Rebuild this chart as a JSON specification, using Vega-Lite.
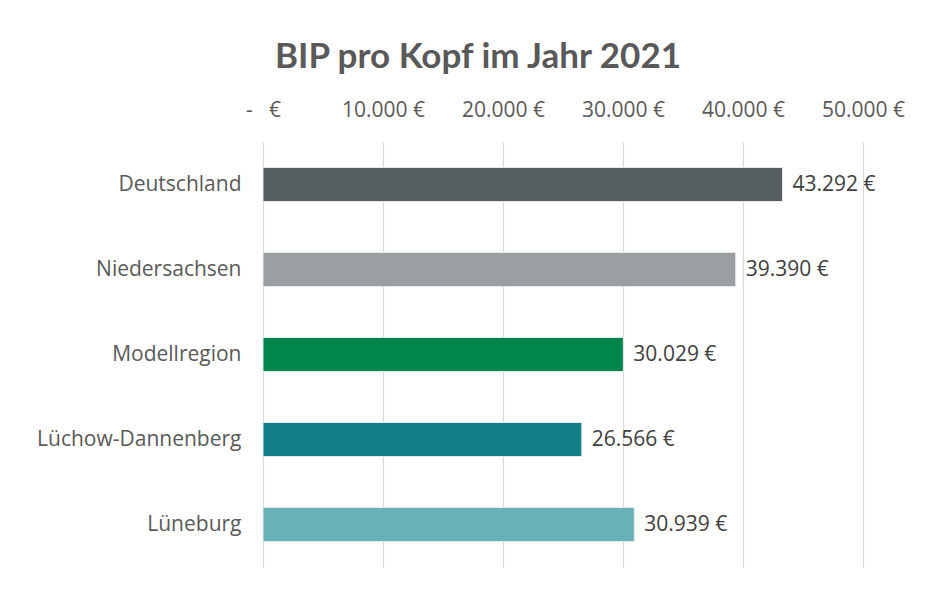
{
  "$schema": "https://vega.github.io/schema/vega-lite/v6.json",
  "width": 600,
  "height": 425,
  "padding": {"left": 36, "top": 40, "right": 10, "bottom": 10},
  "background": "white",
  "title": {
    "text": "BIP pro Kopf im Jahr 2021",
    "font": "Lato",
    "fontSize": 35,
    "fontWeight": "bold",
    "color": "#595959",
    "anchor": "middle",
    "frame": "group",
    "dx": -85,
    "offset": 24
  },
  "data": {
    "values": [
      {"region": "Deutschland", "bip": 43292},
      {"region": "Niedersachsen", "bip": 39390},
      {"region": "Modellregion", "bip": 30029},
      {"region": "Lüchow-Dannenberg", "bip": 26566},
      {"region": "Lüneburg", "bip": 30939}
    ]
  },
  "encoding": {
    "y": {
      "field": "region",
      "type": "nominal",
      "sort": null,
      "scale": {"paddingInner": 0.6, "paddingOuter": 0.3},
      "axis": {
        "title": null,
        "ticks": false,
        "domain": false,
        "labelFont": "Open Sans",
        "labelFontSize": 21,
        "labelColor": "#595959",
        "labelPadding": 22,
        "labelLimit": 400
      }
    },
    "x": {
      "field": "bip",
      "type": "quantitative",
      "scale": {"domain": [0, 50000], "nice": false},
      "axis": {
        "orient": "top",
        "title": null,
        "values": [0, 10000, 20000, 30000, 40000, 50000],
        "labelExpr": "datum.value == 0 ? '-\u00a0\u00a0\u00a0€' : replace(format(datum.value, ',.0f'), ',', '.') + ' €'",
        "labelFlush": false,
        "labelOverlap": false,
        "ticks": false,
        "domain": false,
        "grid": true,
        "gridColor": "#d9d9d9",
        "gridWidth": 1.2,
        "labelFont": "Open Sans",
        "labelFontSize": 21,
        "labelColor": "#595959",
        "labelPadding": 22
      }
    }
  },
  "layer": [
    {
      "mark": {"type": "bar", "stroke": "#e8e8e8", "strokeWidth": 1},
      "encoding": {
        "color": {
          "field": "region",
          "type": "nominal",
          "legend": null,
          "scale": {
            "domain": ["Deutschland", "Niedersachsen", "Modellregion", "Lüchow-Dannenberg", "Lüneburg"],
            "range": ["#575f62", "#9a9fa1", "#00854a", "#107f87", "#66b2b8"]
          }
        }
      }
    },
    {
      "mark": {"type": "text", "align": "left", "dx": 10, "font": "Open Sans", "fontSize": 21, "color": "#404040"},
      "encoding": {
        "text": {"field": "bip", "type": "quantitative", "format": "$,.0f"}
      }
    }
  ],
  "config": {
    "view": {"stroke": null},
    "locale": {"number": {"decimal": ",", "thousands": ".", "grouping": [3], "currency": ["", " €"]}}
  }
}
